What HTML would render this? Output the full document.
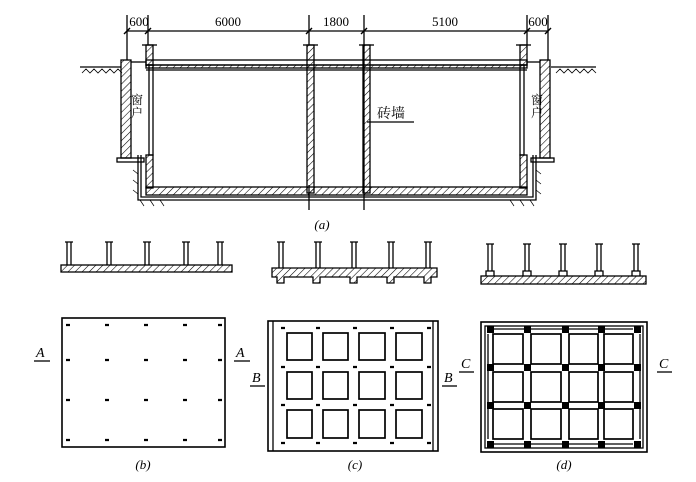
<!DOCTYPE html>
<html><head><meta charset="utf-8"><style>
html,body{margin:0;padding:0;background:#fff;}
svg{display:block;}
text{font-family:"Liberation Serif","Noto Serif CJK SC",serif;fill:#000;}
</style></head><body>
<svg width="696" height="482" viewBox="0 0 696 482" xmlns="http://www.w3.org/2000/svg">
<defs>
<pattern id="h" width="5" height="5" patternUnits="userSpaceOnUse" patternTransform="rotate(45)">
<line x1="0" y1="0" x2="0" y2="5" stroke="#000" stroke-width="1.1"/>
</pattern>
</defs>
<g stroke="#000" fill="none" stroke-width="1.3">
<line x1="127" y1="31" x2="548" y2="31"/>
<g stroke-width="1.4">
<line x1="124" y1="34" x2="130" y2="28"/><line x1="145" y1="34" x2="151" y2="28"/>
<line x1="306" y1="34" x2="312" y2="28"/><line x1="361" y1="34" x2="367" y2="28"/>
<line x1="524" y1="34" x2="530" y2="28"/><line x1="545" y1="34" x2="551" y2="28"/>
</g>
<line x1="127" y1="15" x2="127" y2="60"/><line x1="148" y1="15" x2="148" y2="45"/>
<line x1="309" y1="15" x2="309" y2="45"/><line x1="364" y1="15" x2="364" y2="210"/>
<line x1="527" y1="15" x2="527" y2="45"/><line x1="548" y1="15" x2="548" y2="60"/>
<line x1="309" y1="185" x2="309" y2="210"/>
<line x1="80" y1="67" x2="121" y2="67"/><line x1="551" y1="67" x2="596" y2="67"/>
<path d="M82 73l4-4 4 4 4-4 4 4 4-4 4 4 4-4 4 4 4-4 4 4 M556 73l4-4 4 4 4-4 4 4 4-4 4 4 4-4 4 4 4-4 4 4" stroke-width="0.8"/>
<rect x="121" y="60" width="10" height="98" fill="url(#h)"/>
<rect x="117" y="158" width="27" height="4"/>
<line x1="131" y1="62" x2="146" y2="62"/>
<rect x="540" y="60" width="10" height="98" fill="url(#h)"/>
<rect x="531" y="158" width="23" height="4"/>
<line x1="527" y1="62" x2="540" y2="62"/>
<rect x="146" y="45" width="7" height="20" fill="url(#h)"/>
<rect x="149" y="65" width="4" height="90"/>
<rect x="146" y="155" width="7" height="33" fill="url(#h)"/>
<rect x="520" y="45" width="7" height="20" fill="url(#h)"/>
<rect x="520" y="65" width="4" height="90"/>
<rect x="520" y="155" width="7" height="33" fill="url(#h)"/>
<line x1="142" y1="45" x2="157" y2="45"/><line x1="516" y1="45" x2="531" y2="45"/>
<line x1="303" y1="45" x2="318" y2="45"/><line x1="359" y1="45" x2="374" y2="45"/>
<rect x="146" y="60" width="381" height="5"/>
<rect x="146" y="65" width="381" height="3" fill="url(#h)"/>
<line x1="146" y1="70" x2="527" y2="70"/>
<rect x="307" y="45" width="7" height="148" fill="url(#h)"/>
<rect x="363" y="45" width="7" height="148" fill="url(#h)"/>
<path d="M141 155 V197 H533 V155"/>
<path d="M138 155 V200 H536 V155"/>
<rect x="146" y="187" width="381" height="8" fill="url(#h)"/>
<path d="M140 200l4 6 M150 200l4 6 M160 200l4 6 M510 200l4 6 M520 200l4 6 M530 200l4 6 M536 170l5 4 M536 180l5 4 M536 190l5 4 M133 170l5 4 M133 180l5 4 M133 190l5 4" stroke-width="0.7"/>
<line x1="367" y1="122" x2="414" y2="122"/>
</g>
<text x="139" y="26" font-size="13" text-anchor="middle">600</text>
<text x="228" y="26" font-size="13" text-anchor="middle">6000</text>
<text x="336" y="26" font-size="13" text-anchor="middle">1800</text>
<text x="445" y="26" font-size="13" text-anchor="middle">5100</text>
<text x="538" y="26" font-size="13" text-anchor="middle">600</text>
<text x="137" y="104" font-size="12" text-anchor="middle">窗</text>
<text x="137" y="117" font-size="12" text-anchor="middle">户</text>
<text x="537" y="104" font-size="12" text-anchor="middle">窗</text>
<text x="537" y="117" font-size="12" text-anchor="middle">户</text>
<text x="391" y="118" font-size="14" text-anchor="middle">砖墙</text>
<text x="322" y="229" font-size="13" font-style="italic" text-anchor="middle">(a)</text>

<g stroke="#000" fill="none" stroke-width="1.3">
<rect x="61" y="265" width="171" height="7" fill="url(#h)"/>
<path d="M67 242v23M71 242v23M107 242v23M111 242v23M145 242v23M149 242v23M184 242v23M188 242v23M218 242v23M222 242v23"/>
<path d="M65 242h8M105 242h8M143 242h8M182 242h8M216 242h8"/>
<rect x="62" y="318" width="163" height="129" stroke-width="1.6"/>
<g stroke-width="2.2">
<path d="M66 325h4M105 325h4M144 325h4M183 325h4M218 325h4"/>
<path d="M66 360h4M105 360h4M144 360h4M183 360h4M218 360h4"/>
<path d="M66 400h4M105 400h4M144 400h4M183 400h4M218 400h4"/>
<path d="M66 440h4M105 440h4M144 440h4M183 440h4M218 440h4"/>
</g>
<path d="M272 268h165v9h-6v6h-7v-6h-30v6h-7v-6h-30v6h-7v-6h-30v6h-7v-6h-29v6h-7v-6h-5z" fill="url(#h)"/>
<path d="M279 242v26M283 242v26M316 242v26M320 242v26M352 242v26M356 242v26M389 242v26M393 242v26M426 242v26M430 242v26"/>
<path d="M277 242h8M314 242h8M350 242h8M387 242h8M424 242h8"/>
<rect x="268" y="321" width="170" height="130" stroke-width="1.6"/>
<line x1="273" y1="321" x2="273" y2="451"/><line x1="433" y1="321" x2="433" y2="451"/>
<g stroke-width="1.7">
<rect x="287" y="333" width="25" height="27"/><rect x="323" y="333" width="25" height="27"/><rect x="359" y="333" width="26" height="27"/><rect x="396" y="333" width="26" height="27"/>
<rect x="287" y="372" width="25" height="27"/><rect x="323" y="372" width="25" height="27"/><rect x="359" y="372" width="26" height="27"/><rect x="396" y="372" width="26" height="27"/>
<rect x="287" y="410" width="25" height="28"/><rect x="323" y="410" width="25" height="28"/><rect x="359" y="410" width="26" height="28"/><rect x="396" y="410" width="26" height="28"/>
</g>
<g stroke-width="2.2">
<path d="M281 328h4M316 328h4M353 328h4M390 328h4M427 328h4"/>
<path d="M281 367h4M316 367h4M353 367h4M390 367h4M427 367h4"/>
<path d="M281 405h4M316 405h4M353 405h4M390 405h4M427 405h4"/>
<path d="M281 443h4M316 443h4M353 443h4M390 443h4M427 443h4"/>
</g>
<rect x="481" y="276" width="165" height="8" fill="url(#h)"/>
<path d="M486 276v-5h8v5M523 276v-5h8v5M559 276v-5h8v5M595 276v-5h8v5M632 276v-5h8v5"/>
<path d="M488 244v27M492 244v27M525 244v27M529 244v27M561 244v27M565 244v27M597 244v27M601 244v27M634 244v27M638 244v27"/>
<path d="M486 244h8M523 244h8M559 244h8M595 244h8M632 244h8"/>
<rect x="481" y="322" width="166" height="130" stroke-width="1.6"/>
<rect x="485" y="326" width="158" height="122"/>
<g stroke-width="1.7">
<rect x="493" y="334" width="30" height="30"/><rect x="531" y="334" width="30" height="30"/><rect x="569" y="334" width="29" height="30"/><rect x="604" y="334" width="29" height="30"/>
<rect x="493" y="372" width="30" height="30"/><rect x="531" y="372" width="30" height="30"/><rect x="569" y="372" width="29" height="30"/><rect x="604" y="372" width="29" height="30"/>
<rect x="493" y="409" width="30" height="30"/><rect x="531" y="409" width="30" height="30"/><rect x="569" y="409" width="29" height="30"/><rect x="604" y="409" width="29" height="30"/>
</g>
<path d="M488 334v105M640 334v105M493 329h140M493 444h140"/>
</g>
<g fill="#000">
<rect x="487" y="326" width="7" height="7"/><rect x="524" y="326" width="7" height="7"/><rect x="562" y="326" width="7" height="7"/><rect x="598" y="326" width="7" height="7"/><rect x="634" y="326" width="7" height="7"/>
<rect x="487" y="364" width="7" height="7"/><rect x="524" y="364" width="7" height="7"/><rect x="562" y="364" width="7" height="7"/><rect x="598" y="364" width="7" height="7"/><rect x="634" y="364" width="7" height="7"/>
<rect x="487" y="402" width="7" height="7"/><rect x="524" y="402" width="7" height="7"/><rect x="562" y="402" width="7" height="7"/><rect x="598" y="402" width="7" height="7"/><rect x="634" y="402" width="7" height="7"/>
<rect x="487" y="441" width="7" height="7"/><rect x="524" y="441" width="7" height="7"/><rect x="562" y="441" width="7" height="7"/><rect x="598" y="441" width="7" height="7"/><rect x="634" y="441" width="7" height="7"/>
</g>
<g font-size="14" font-style="italic">
<text x="36" y="357">A</text><line x1="34" y1="361" x2="50" y2="361" stroke="#000" stroke-width="1.3"/>
<text x="236" y="357">A</text><line x1="234" y1="361" x2="250" y2="361" stroke="#000" stroke-width="1.3"/>
<text x="252" y="382">B</text><line x1="250" y1="386" x2="265" y2="386" stroke="#000" stroke-width="1.3"/>
<text x="444" y="382">B</text><line x1="442" y1="386" x2="457" y2="386" stroke="#000" stroke-width="1.3"/>
<text x="461" y="368">C</text><line x1="459" y1="372" x2="474" y2="372" stroke="#000" stroke-width="1.3"/>
<text x="659" y="368">C</text><line x1="657" y1="372" x2="672" y2="372" stroke="#000" stroke-width="1.3"/>
</g>
<g font-size="13" font-style="italic" text-anchor="middle">
<text x="143" y="469">(b)</text><text x="355" y="469">(c)</text><text x="564" y="469">(d)</text>
</g>
</svg>
</body></html>
